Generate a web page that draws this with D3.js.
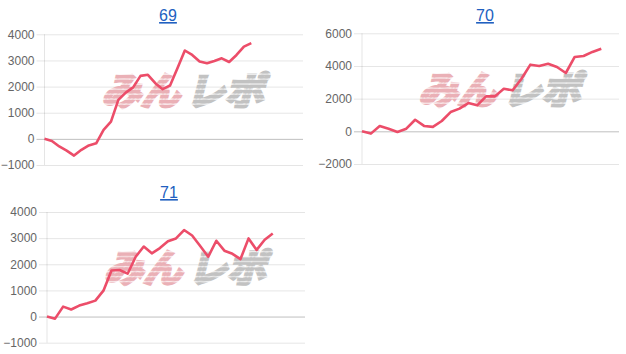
<!DOCTYPE html>
<html lang="ja">
<head>
  <meta charset="UTF-8">
  <title>69 70 71</title>
  <style>
    body { margin: 0; background: #fff; font-family: "Liberation Sans", Arial, sans-serif; }
  </style>
  <script src="https://cdn.jsdelivr.net/npm/d3@7"></script>
</head>
<body>
<script>
  // values
  var titles = ["69", "70", "71"];
  var series69 = [0, -80, -290, -450, -640, -420, -250, -170, 340, 660, 1490, 1770, 1970, 2410, 2450,
                  2130, 1900, 2040, 2700, 3380, 3210, 2960, 2890, 2980, 3080, 2940, 3210, 3530, 3660];
  var series70 = [0, -140, 330, 160, -40, 160, 710, 330, 270, 630, 1180, 1390, 1730, 1590,
                  2140, 2140, 2610, 2510, 3220, 4080, 4000, 4140, 3940, 3570, 4550, 4610, 4860, 5060];
  var series71 = [0, -80, 380, 270, 420, 510, 610, 990, 1760, 1780, 1640, 2290, 2680, 2420, 2620,
                  2880, 2990, 3310, 3100, 2700, 2290, 2900, 2520, 2400, 2200, 2990, 2550, 2940, 3180];
  var ticks69 = [-1000, 0, 1000, 2000, 3000, 4000];
  var ticks70 = [-2000, 0, 2000, 4000, 6000];
  var ticks71 = [-1000, 0, 1000, 2000, 3000, 4000];
  var xMax = [35, 29, 32];

  var W = 626, H = 354;
  var svg = d3.select("body").append("svg").attr("width", W).attr("height", H);

  var defs = svg.append("defs");
  function stripe(id, color) {
    var p = defs.append("pattern").attr("id", id).attr("patternUnits", "userSpaceOnUse")
      .attr("width", 8).attr("height", 5);
    p.append("rect").attr("width", 8).attr("height", 3.8).attr("fill", color);
  }
  stripe("wmPink", "#eab0b6");
  stripe("wmGray", "#c2c2c2");

  var panels = [
    {title: titles[0], data: series69, ticks: ticks69, xMax: xMax[0], tx: 168, ty: 21, l: 44.5, r: 303, t: 34.3, b: 165},
    {title: titles[1], data: series70, ticks: ticks70, xMax: xMax[1], tx: 485, ty: 21, l: 362, r: 619, t: 33.3, b: 164},
    {title: titles[2], data: series71, ticks: ticks71, xMax: xMax[2], tx: 169, ty: 198, l: 47, r: 305, t: 212, b: 342.7}
  ];

  panels.forEach(function(p) {
    var g = svg.append("g");
    var x = d3.scaleLinear().domain([0, p.xMax]).range([p.l, p.r]);
    var y = d3.scaleLinear().domain(d3.extent(p.ticks)).range([p.b, p.t]);

    // title (link style)
    g.append("text").attr("x", p.tx).attr("y", p.ty).attr("text-anchor", "middle")
      .attr("font-size", 16).attr("fill", "#2160c0")
      .attr("text-decoration", "underline").text(p.title);

    // y axis with gridlines
    var ax = g.append("g").attr("transform", "translate(" + p.l + ",0)")
      .call(d3.axisLeft(y).tickValues(p.ticks).tickSize(-(p.r - p.l)).tickPadding(10).tickFormat(d3.format("d")));
    ax.select(".domain").remove();
    ax.selectAll(".tick line")
      .attr("x1", -8)
      .attr("stroke", function(d) { return d === 0 ? "rgba(0,0,0,0.25)" : "rgba(0,0,0,0.1)"; });
    ax.selectAll(".tick text").attr("fill", "#666").attr("font-size", 12)
      .attr("font-family", "'Liberation Sans', Arial, sans-serif");

    g.append("line").attr("x1", p.l).attr("x2", p.l).attr("y1", p.t).attr("y2", p.b)
      .attr("stroke", "rgba(0,0,0,0.1)");

    // watermark
    var cx = (p.l + p.r) / 2 + 10, cy = (p.t + p.b) / 2 - 8;
    var wm = g.append("g").attr("transform", "translate(" + cx + "," + (cy + 13) + ") skewX(-14)")
      .attr("font-family", "'Noto Sans CJK JP', sans-serif").attr("font-weight", 700)
      .attr("font-size", 38).attr("stroke-width", 3.5).attr("stroke-linejoin", "miter");
    wm.append("text").attr("x", -82).attr("y", 0).attr("textLength", 78).attr("lengthAdjust", "spacingAndGlyphs")
      .attr("fill", "url(#wmPink)").attr("stroke", "url(#wmPink)").text("みん");
    wm.append("text").attr("x", 2).attr("y", 0).attr("textLength", 78).attr("lengthAdjust", "spacingAndGlyphs")
      .attr("fill", "url(#wmGray)").attr("stroke", "url(#wmGray)").text("レポ");

    // line
    var line = d3.line().x(function(d, i) { return x(i); }).y(function(d) { return y(d); });
    g.append("path").datum(p.data).attr("d", line)
      .attr("fill", "none").attr("stroke", "#ec4d69").attr("stroke-width", 2.6)
      .attr("stroke-linejoin", "round");
  });
</script>
</body>
</html>
